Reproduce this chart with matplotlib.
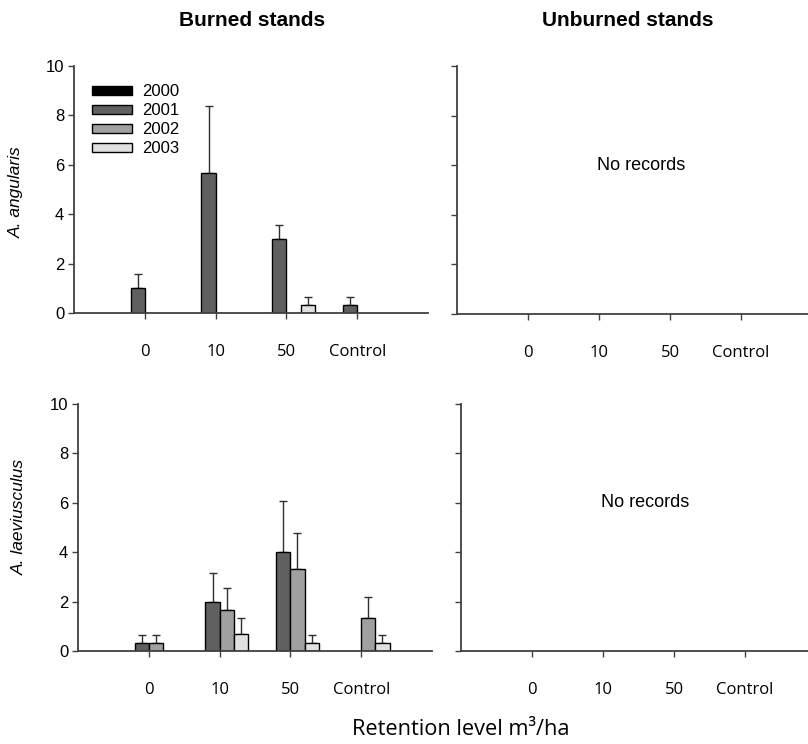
import matplotlib
matplotlib.use("Agg")
import matplotlib.pyplot as plt
import numpy as np

# data (mean +/- SE)
groups = ["0", "10", "50", "Control"]
years = ["2000", "2001", "2002", "2003"]
colors = ["#000000", "#606060", "#a0a0a0", "#e0e0e0"]

ang_mean = {
    "2000": [0, 0, 0, 0],
    "2001": [1.0, 5.67, 3.0, 0.33],
    "2002": [0, 0, 0, 0],
    "2003": [0, 0, 0.33, 0],
}
ang_err = {
    "2000": [0, 0, 0, 0],
    "2001": [0.58, 2.73, 0.58, 0.33],
    "2002": [0, 0, 0, 0],
    "2003": [0, 0, 0.33, 0],
}
lae_mean = {
    "2000": [0, 0, 0, 0],
    "2001": [0.33, 2.0, 4.0, 0],
    "2002": [0.33, 1.67, 3.33, 1.33],
    "2003": [0, 0.67, 0.33, 0.33],
}
lae_err = {
    "2000": [0, 0, 0, 0],
    "2001": [0.33, 1.15, 2.08, 0],
    "2002": [0.33, 0.88, 1.45, 0.87],
    "2003": [0, 0.67, 0.33, 0.33],
}

arial = "Liberation Sans"
calib = "Open Sans"
spine_col = "#404040"

fig = plt.figure(figsize=(8.08, 7.44), dpi=100)
W, H = 808, 744


def px_axes(left, right, top, bottom):
    return fig.add_axes([left / W, 1 - bottom / H, (right - left) / W, (bottom - top) / H])


ax_tl = px_axes(74, 428, 66, 313)
ax_tr = px_axes(457, 812, 66, 314)
ax_bl = px_axes(78, 432, 404, 651)
ax_br = px_axes(461, 816, 404, 651)

x = np.arange(1, len(groups) + 1)
bw = 0.2
offsets = [-0.3, -0.1, 0.1, 0.3]


def style(ax, ylabels=True):
    ax.set_xlim(0, 5)
    ax.set_ylim(0, 10)
    for s in ["top", "right"]:
        ax.spines[s].set_visible(False)
    for s in ["left", "bottom"]:
        ax.spines[s].set_color(spine_col)
        ax.spines[s].set_linewidth(1.3)
    ax.set_yticks(np.arange(0, 11, 2))
    ax.set_xticks(x)
    ax.set_xticklabels(groups, fontfamily=calib, fontsize=12)
    ax.tick_params(axis="x", direction="out", length=4, width=1, color=spine_col, pad=18)
    ax.tick_params(axis="y", direction="out", length=4, width=1, color=spine_col, pad=3)
    if ylabels:
        for lab in ax.get_yticklabels():
            lab.set_fontfamily(arial)
            lab.set_fontsize(12)
    else:
        ax.set_yticklabels([])


def draw(ax, mean, err):
    for i, yr in enumerate(years):
        m = np.array(mean[yr], dtype=float)
        e = np.array(err[yr], dtype=float)
        keep = m > 0
        ax.bar(x[keep] + offsets[i], m[keep], width=bw, color=colors[i],
               edgecolor="black", linewidth=1.0, label=yr, zorder=2)
        ek = e > 0
        if ek.any():
            ax.errorbar(x[ek] + offsets[i], m[ek], yerr=[np.zeros(ek.sum()), e[ek]],
                        fmt="none", ecolor="#303030", elinewidth=1, capsize=3,
                        capthick=1, zorder=1)


draw(ax_tl, ang_mean, ang_err)
draw(ax_bl, lae_mean, lae_err)
style(ax_tl)
style(ax_bl)
style(ax_tr, ylabels=False)
style(ax_br, ylabels=False)

ax_tr.text(2.6, 6.0, "No records", fontfamily=arial, fontsize=13, ha="center", va="center")
ax_br.text(2.6, 6.0, "No records", fontfamily=arial, fontsize=13, ha="center", va="center")

# legend (2000 has no bars, add proxy handles for every year)
handles = [plt.Rectangle((0, 0), 1, 1, facecolor=c, edgecolor="black", linewidth=1) for c in colors]
ax_tl.legend(handles, years, loc="upper left", bbox_to_anchor=(92 / W, 1 - 84 / H),
             bbox_transform=fig.transFigure, frameon=False, borderpad=0, borderaxespad=0,
             handlelength=2.4, handleheight=0.45, handletextpad=0.6, labelspacing=0.24,
             prop={"family": arial, "size": 12})

fig.text(252 / W, 1 - 20 / H, "Burned stands", fontfamily=arial, fontweight="bold",
         fontsize=15, ha="center", va="center")
fig.text(628 / W, 1 - 20 / H, "Unburned stands", fontfamily=arial, fontweight="bold",
         fontsize=15, ha="center", va="center")
fig.text(16 / W, 1 - 192 / H, "A. angularis", fontfamily=arial, style="italic",
         fontsize=12.5, rotation=90, ha="center", va="center")
fig.text(19 / W, 1 - 517 / H, "A. laeviusculus", fontfamily=arial, style="italic",
         fontsize=12.5, rotation=90, ha="center", va="center")
fig.text(461 / W, 1 - 735 / H, "Retention level m³/ha", fontfamily=calib,
         fontsize=15.7, ha="center", va="baseline")

fig.savefig("out.png", dpi=100)
